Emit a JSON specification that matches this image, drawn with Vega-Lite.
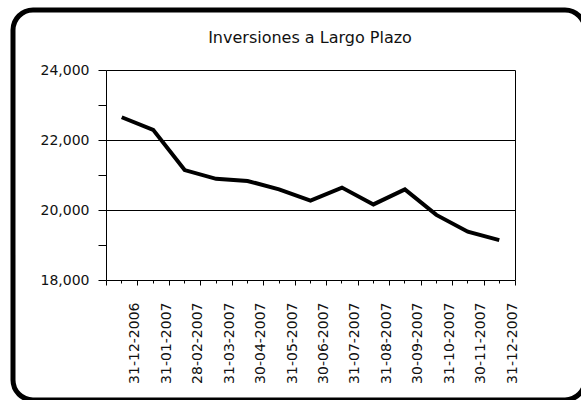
{
  "$schema": "https://vega.github.io/schema/vega-lite/v6.json",
  "width": 572,
  "height": 390,
  "autosize": {"type": "none"},
  "padding": {"left": 13, "top": 10, "right": 0, "bottom": 0},
  "background": "white",
  "title": {
    "text": "Inversiones a Largo Plazo",
    "frame": "group",
    "anchor": "middle",
    "offset": -36,
    "dx": 11,
    "font": "DejaVu Sans",
    "fontSize": 16,
    "fontWeight": "normal",
    "color": "#111"
  },
  "config": {
    "view": {"stroke": "black", "strokeWidth": 5, "cornerRadius": 20, "fill": "white"},
    "axis": {
      "domainColor": "black",
      "domainWidth": 1,
      "tickColor": "black",
      "labelColor": "#111",
      "labelFont": "DejaVu Sans",
      "title": null
    }
  },
  "data": {
    "values": [
      {"fecha": "31-12-2006", "valor": 22650},
      {"fecha": "31-01-2007", "valor": 22290},
      {"fecha": "28-02-2007", "valor": 21140},
      {"fecha": "31-03-2007", "valor": 20890},
      {"fecha": "30-04-2007", "valor": 20830},
      {"fecha": "31-05-2007", "valor": 20590},
      {"fecha": "30-06-2007", "valor": 20270},
      {"fecha": "31-07-2007", "valor": 20640},
      {"fecha": "31-08-2007", "valor": 20160},
      {"fecha": "30-09-2007", "valor": 20590},
      {"fecha": "31-10-2007", "valor": 19860},
      {"fecha": "30-11-2007", "valor": 19380},
      {"fecha": "31-12-2007", "valor": 19140}
    ]
  },
  "layer": [
    {
      "mark": {"type": "line", "color": "black", "strokeWidth": 4},
      "encoding": {
        "x": {
          "field": "fecha",
          "type": "nominal",
          "sort": null,
          "scale": {"range": [93, 502], "paddingInner": 0, "paddingOuter": 0},
          "axis": {
            "orient": "bottom",
            "offset": -120,
            "labelAngle": -90,
            "labelFontSize": 14,
            "labelPadding": 17,
            "labelOffset": 13,
            "tickBand": "extent",
            "tickSize": 5,
            "grid": false,
            "title": null
          }
        },
        "y": {
          "field": "valor",
          "type": "quantitative",
          "scale": {"domain": [18000, 24000], "range": [270, 60], "nice": false, "zero": false},
          "axis": {
            "orient": "left",
            "offset": -93,
            "values": [18000, 19000, 20000, 21000, 22000, 23000, 24000],
            "labelExpr": "datum.value % 2000 == 0 ? format(datum.value, ',d') : ''",
            "labelFontSize": 14,
            "labelPadding": 9,
            "tickSize": 8,
            "grid": true,
            "gridColor": "black",
            "gridWidth": 1,
            "gridOpacity": {"condition": {"test": "datum.value % 2000 != 0 || datum.value == 18000", "value": 0}, "value": 1},
            "title": null
          }
        }
      }
    },
    {
      "mark": {"type": "line", "opacity": 0},
      "encoding": {
        "x": {
          "field": "fecha",
          "type": "nominal",
          "sort": null,
          "scale": {"range": [93, 502], "paddingInner": 0, "paddingOuter": 0},
          "axis": {
            "orient": "bottom",
            "offset": -120,
            "labels": false,
            "domain": false,
            "ticks": true,
            "tickSize": 3,
            "tickBand": "center",
            "grid": false,
            "title": null
          }
        },
        "y": {
          "field": "valor",
          "type": "quantitative",
          "scale": {"domain": [18000, 24000], "range": [270, 60], "nice": false, "zero": false},
          "axis": {
            "orient": "right",
            "offset": -70,
            "ticks": false,
            "labels": false,
            "grid": false,
            "domain": true,
            "title": null
          }
        }
      }
    }
  ],
  "resolve": {"axis": {"x": "independent", "y": "independent"}}
}
